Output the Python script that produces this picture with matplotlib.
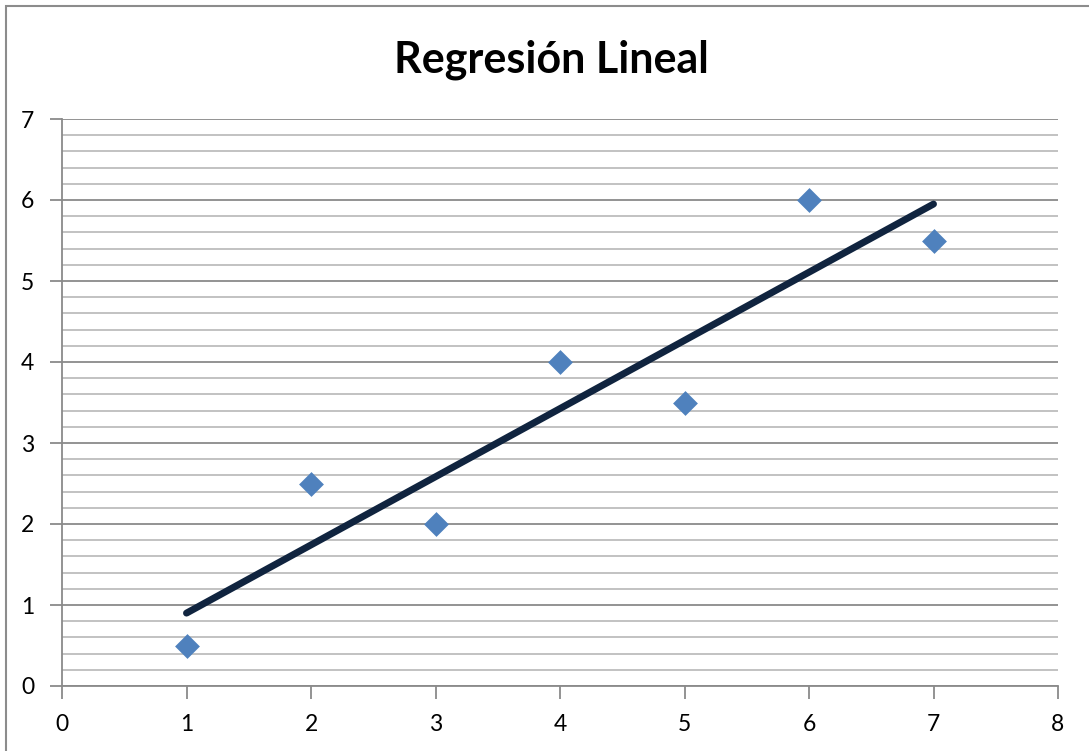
import matplotlib
matplotlib.use("Agg")
import matplotlib.pyplot as plt
from matplotlib.patches import Rectangle
from matplotlib.ticker import MultipleLocator

x_vals = [1, 2, 3, 4, 5, 6, 7]
y_vals = [0.5, 2.5, 2.0, 4.0, 3.5, 6.0, 5.5]
line_x = [1, 7]
line_y = [0.9, 5.95]
title = "Regresión Lineal"

W, H = 1089, 751
fig = plt.figure(figsize=(W/100, H/100), dpi=100)
plt.rcParams['font.family'] = ['Lato', 'DejaVu Sans']

# outer chart border
fig.patches.append(Rectangle((6/W, -0.05), 1.2, (H-6)/H + 0.05, transform=fig.transFigure,
                             fill=False, edgecolor='#8c8c8c', linewidth=1.5, zorder=0))

left, right, top, bottom = 62, 1058, 119, 686
ax = fig.add_axes([left/W, 1-bottom/H, (right-left)/W, (bottom-top)/H])
ax.set_xlim(0, 8)
ax.set_ylim(0, 7)
ax.xaxis.set_major_locator(MultipleLocator(1))
ax.yaxis.set_major_locator(MultipleLocator(1))
ax.yaxis.set_minor_locator(MultipleLocator(0.2))
ax.grid(which='major', axis='y', color='#8a8a8a', linewidth=1.3)
ax.grid(which='minor', axis='y', color='#bdbdbd', linewidth=1.3)
ax.tick_params(axis='y', which='minor', length=0)
ax.tick_params(axis='both', which='major', length=9, width=1.3, color='#8a8a8a',
               labelsize=16.5)
ax.tick_params(axis='x', which='major', pad=11)
ax.tick_params(axis='y', which='major', pad=11)
for s in ['top', 'right']:
    ax.spines[s].set_visible(False)
for s in ['left', 'bottom']:
    ax.spines[s].set_color('#8a8a8a')
    ax.spines[s].set_linewidth(1.3)
ax.set_axisbelow(True)

ax.plot(line_x, line_y, color='#10243f', linewidth=5, solid_capstyle='round', zorder=3)
ax.scatter(x_vals, y_vals, marker='D', s=160, color='#4f81bd', zorder=4, linewidths=0)
for lbl in ax.get_xticklabels() + ax.get_yticklabels():
    lbl.set_color('black')

fig.text((390+712)/2/W, 1-72/H, title, ha='center', va='baseline', fontsize=31, fontweight='bold')

fig.savefig("out.png", dpi=100)
